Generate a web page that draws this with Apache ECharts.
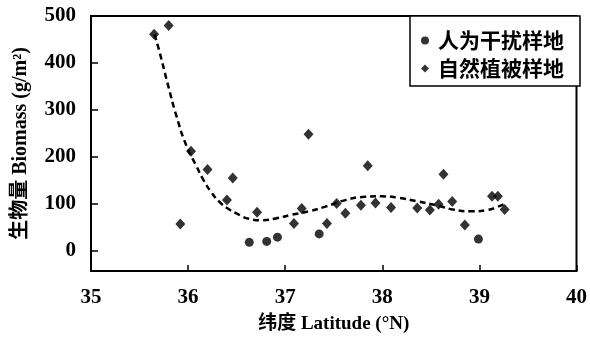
<!DOCTYPE html>
<html>
<head>
<meta charset="utf-8">
<script src="https://cdn.jsdelivr.net/npm/echarts@6/dist/echarts.min.js"></script>
<style>
  html, body { margin: 0; padding: 0; background: #fff; }
  #chart { width: 590px; height: 339px; }
</style>
</head>
<body>
<div id="chart"></div>
<script>
// Disturbed plots (人为干扰样地)
const disturbedLat = [36.63, 36.81, 36.92, 37.35, 38.99];
const disturbedBio = [18, 20, 29, 36, 25];

// Natural vegetation plots (自然植被样地)
const naturalLat = [35.65, 35.80, 35.92, 36.03, 36.20, 36.40, 36.46, 36.71, 37.09, 37.17,
                    37.24, 37.43, 37.53, 37.62, 37.78, 37.85, 37.93, 38.09, 38.36, 38.49,
                    38.58, 38.63, 38.72, 38.85, 39.13, 39.19, 39.26];
const naturalBio = [461, 480, 57, 212, 173, 108, 155, 82, 58, 90,
                    248, 58, 101, 80, 97, 181, 102, 92, 91, 87,
                    99, 163, 105, 55, 116, 116, 88];

// Polynomial trend line
const trendLat = [35.655, 35.709, 35.788, 35.880, 35.982, 36.084, 36.152, 36.238, 36.323, 36.408,
                  36.493, 36.630, 36.766, 36.903, 37.072, 37.243, 37.414, 37.619, 37.823, 37.990,
                  38.164, 38.368, 38.556, 38.726, 38.914, 39.084, 39.177, 39.258];
const trendBio = [461, 421, 357, 287, 224, 181, 153, 125, 104, 90,
                  80, 68, 65, 69, 77, 84, 94, 108, 115, 116,
                  113, 105, 97, 88, 84, 87, 93, 100];

// Axis ticks
const xTicks = [35, 36, 37, 38, 39, 40];
const yTicks = [0, 100, 200, 300, 400, 500];

const legendNames = ['人为干扰样地', '自然植被样地'];

const pairs = (xs, ys) => xs.map((x, i) => [x, ys[i]]);

const serif = '"Liberation Serif", "Noto Sans CJK SC", serif';
const cjk = '"Noto Sans CJK SC", sans-serif';

const chart = echarts.init(document.getElementById('chart'), null, { renderer: 'canvas' });
chart.setOption({
  animation: false,
  backgroundColor: '#fff',
  grid: {
    left: 91, top: 16, width: 489, height: 257,
    show: true, borderColor: '#000', borderWidth: 2, backgroundColor: 'transparent'
  },
  legend: {
    orient: 'vertical',
    left: 410, top: 16,
    data: [
      { name: legendNames[0], icon: 'circle' },
      { name: legendNames[1], icon: 'diamond' }
    ],
    backgroundColor: '#fff',
    borderColor: '#000', borderWidth: 1.5,
    borderRadius: 0,
    padding: [14, 16, 7, 11],
    itemWidth: 8, itemHeight: 8, itemGap: 7,
    textStyle: { fontFamily: cjk, fontWeight: 'bold', fontSize: 21, color: '#000',
                 padding: [0, 0, 0, 4] }
  },
  xAxis: {
    type: 'value', min: 35, max: 40, interval: 1,
    name: '纬度 Latitude (°N)', nameLocation: 'middle', nameGap: 44,
    nameTextStyle: { fontFamily: serif, fontWeight: 'bold', fontSize: 19, color: '#000' },
    axisLine: { onZero: false, lineStyle: { color: '#000', width: 2 } },
    axisTick: { inside: true, length: 6, lineStyle: { color: '#000', width: 1.5 } },
    axisLabel: { margin: 16, fontFamily: serif, fontWeight: 'bold', fontSize: 21, color: '#000',
                 customValues: xTicks },
    splitLine: { show: false }
  },
  yAxis: {
    type: 'value', min: -43, max: 500,
    name: '生物量 Biomass (g/m²)', nameLocation: 'middle', nameGap: 60,
    nameTextStyle: { fontFamily: serif, fontWeight: 'bold', fontSize: 20, color: '#000' },
    axisLine: { onZero: false, lineStyle: { color: '#000', width: 2 } },
    axisTick: { inside: true, length: 7, lineStyle: { color: '#000', width: 1.5 },
                customValues: yTicks },
    axisLabel: { margin: 15, fontFamily: serif, fontWeight: 'bold', fontSize: 21, color: '#000',
                 customValues: yTicks },
    splitLine: { show: false }
  },
  series: [
    {
      name: '趋势线', type: 'line', data: pairs(trendLat, trendBio),
      smooth: true, showSymbol: false, symbol: 'none',
      lineStyle: { color: '#000', width: 2.5, type: [6, 4] },
      z: 1, silent: true
    },
    {
      name: legendNames[0], type: 'scatter', data: pairs(disturbedLat, disturbedBio),
      symbol: 'circle', symbolSize: 9,
      itemStyle: { color: '#000' }, z: 3
    },
    {
      name: legendNames[1], type: 'scatter', data: pairs(naturalLat, naturalBio),
      symbol: 'diamond', symbolSize: [10, 11],
      itemStyle: { color: '#000' }, z: 3
    }
  ]
});
</script>
</body>
</html>
